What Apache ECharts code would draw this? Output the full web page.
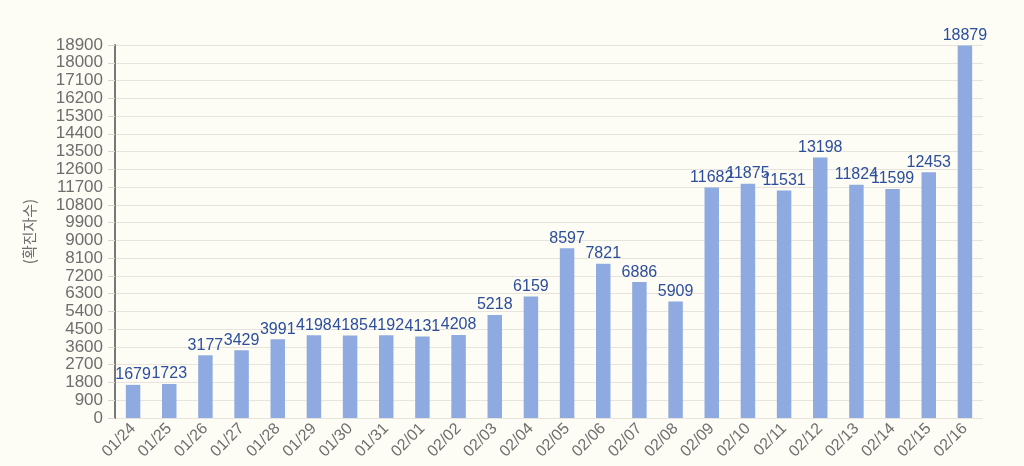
<!DOCTYPE html>
<html><head><meta charset="utf-8">
<script src="https://cdn.jsdelivr.net/npm/echarts@6/dist/echarts.min.js"></script>
<style>html,body{margin:0;padding:0;background:#fdfcf5;}#c{width:1024px;height:466px;}</style>
</head><body><div id="c"></div>
<script>
const categories = ['01/24','01/25','01/26','01/27','01/28','01/29','01/30','01/31','02/01','02/02','02/03','02/04','02/05','02/06','02/07','02/08','02/09','02/10','02/11','02/12','02/13','02/14','02/15','02/16'];
const cases = [1679,1723,3177,3429,3991,4198,4185,4192,4131,4208,5218,6159,8597,7821,6886,5909,11682,11875,11531,13198,11824,11599,12453,18879];
const yMin = 0, yMax = 18900, yStep = 900;
const yName = '(확진자수)';

const chart = echarts.init(document.getElementById('c'));
chart.setOption({
  backgroundColor: '#fdfcf5',
  animation: false,
  grid: {left: 115, right: 41, top: 45, bottom: 48},
  xAxis: {
    type: 'category', data: categories,
    axisLine: {show: false},
    axisTick: {show: false},
    axisLabel: {rotate: 45, color: '#6e6e6e', fontSize: 16, fontFamily: 'Arial, Liberation Sans', margin: 8}
  },
  yAxis: {
    type: 'value', min: yMin, max: yMax, interval: yStep,
    name: yName, nameLocation: 'middle', nameGap: 78, nameRotate: 90,
    nameTextStyle: {color: '#6e6e6e', fontSize: 15, fontFamily: 'Noto Sans CJK KR'},
    axisLine: {show: true, lineStyle: {color: '#777', width: 2}},
    axisTick: {show: true, inside: false, length: 7, lineStyle: {color: '#d8d6ce'}},
    axisLabel: {color: '#6e6e6e', fontSize: 17, fontFamily: 'Arial, Liberation Sans', margin: 12,
      formatter: v => String(v)},
    splitLine: {lineStyle: {color: '#e6e4dc', width: 1}}
  },
  series: [{
    type: 'bar', data: cases, barWidth: '40%',
    itemStyle: {color: '#8eaae0'},
    label: {show: true, position: 'top', distance: 2, color: '#2c4e9d', fontSize: 16, fontFamily: 'Arial, Liberation Sans'}
  }]
});
</script></body></html>
